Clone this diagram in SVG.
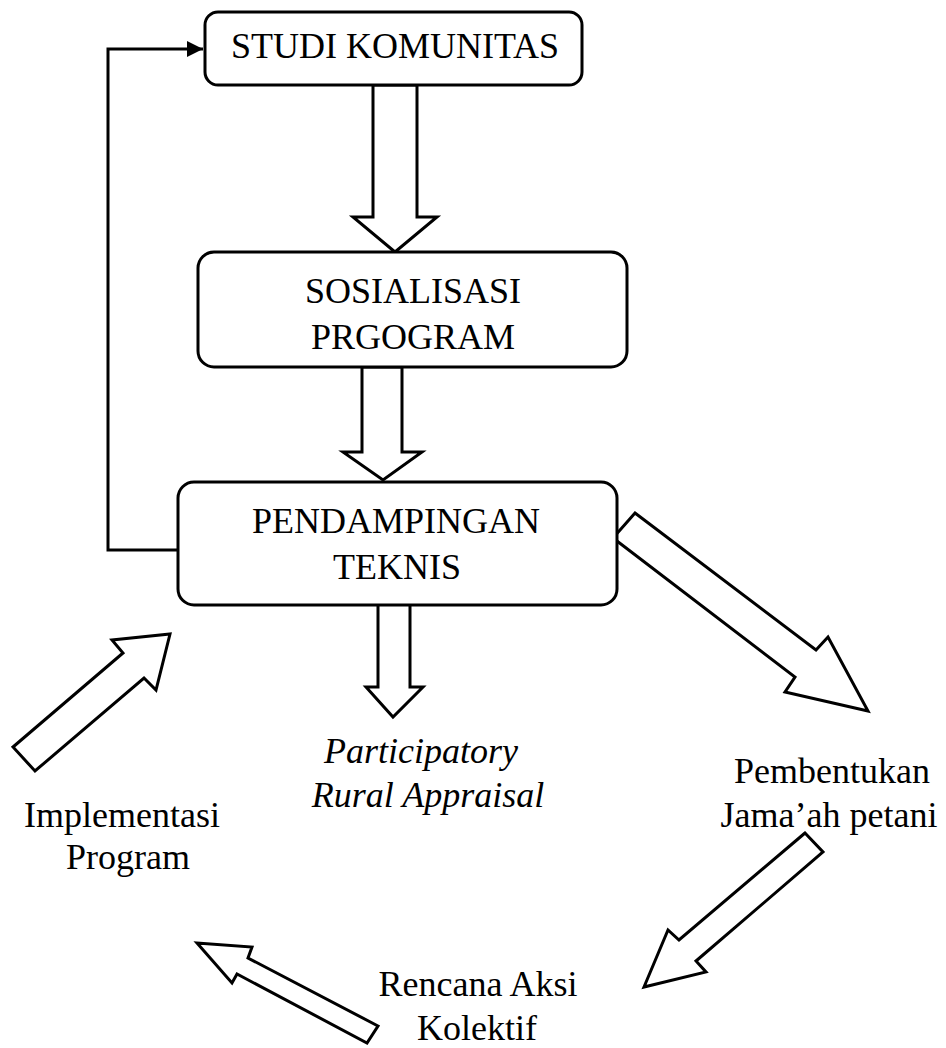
<svg xmlns="http://www.w3.org/2000/svg" width="946" height="1048" viewBox="0 0 946 1048">
<style>
.box{fill:#fff;stroke:#000;stroke-width:3}
.blk{fill:#fff;stroke:#000;stroke-width:3;stroke-linejoin:miter}
.ln{fill:none;stroke:#000;stroke-width:3}
text{font-family:"Liberation Serif","Times New Roman",serif;font-size:36px;fill:#000;text-anchor:middle}
.it{font-style:italic}
</style>
<defs>
<marker id="ah" viewBox="0 0 10 10" refX="10" refY="5" markerWidth="16" markerHeight="16" markerUnits="userSpaceOnUse" orient="auto">
<path d="M0,0 L10,5 L0,10 z" fill="#000"/>
</marker>
</defs>
<rect width="946" height="1048" fill="#fff"/>
<g id="connectors">
<path class="ln" d="M178,550 H108 V49 H203" marker-end="url(#ah)"/>
<polygon class="blk" points="373,85 417,85 417,217 437,217 395,252 353,217 373,217"/>
<polygon class="blk" points="362,367 402,367 402,452 422,452 383,480 343,452 362,452"/>
<polygon class="blk" points="378,596 410,596 410,687 423,687 393,717 366,687 378,687"/>
<polygon class="blk" points="635,513 816,650 828,637 868,711 785,692 795,677 613,538"/>
<polygon class="blk" points="13,747 123,653 112,640 170,634 156,690 144,678 35,771"/>
<polygon class="blk" points="805,833 679,940 668,930 644,987 706,972 696,961 823,852"/>
<polygon class="blk" points="378,1026 248,958 252,947 197,943 232,983 237,974 367,1043"/>
</g>
<g id="studi">
<rect class="box" x="205" y="12" width="377" height="73" rx="13"/>
<text x="395" y="58">STUDI KOMUNITAS</text>
</g>
<g id="sosialisasi">
<rect class="box" x="198" y="252" width="429" height="115" rx="16"/>
<text x="413" y="303">SOSIALISASI</text>
<text x="413" y="349">PRGOGRAM</text>
</g>
<g id="pendampingan">
<rect class="box" x="178" y="482" width="439" height="123" rx="16"/>
<text x="396" y="533">PENDAMPINGAN</text>
<text x="397" y="579">TEKNIS</text>
</g>
<g id="pra">
<text class="it" x="421" y="763">Participatory</text>
<text class="it" x="428" y="807">Rural Appraisal</text>
</g>
<g id="implementasi">
<text x="122" y="827">Implementasi</text>
<text x="128" y="869">Program</text>
</g>
<g id="pembentukan">
<text x="832" y="783">Pembentukan</text>
<text x="829" y="827">Jama’ah petani</text>
</g>
<g id="rencana">
<text x="478" y="996">Rencana Aksi</text>
<text x="477" y="1040">Kolektif</text>
</g>
</svg>
